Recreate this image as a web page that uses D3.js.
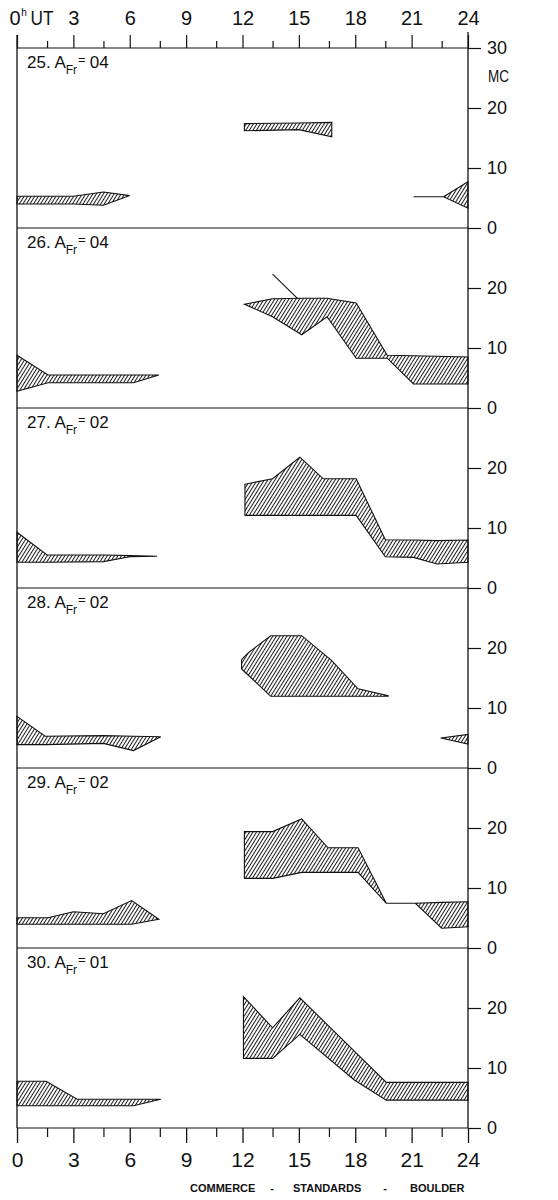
<!DOCTYPE html>
<html><head><meta charset="utf-8">
<script src="https://cdn.jsdelivr.net/npm/d3@7"></script>
<style>
html,body{margin:0;padding:0;background:#fff;}
svg{display:block;}
text{font-family:"Liberation Sans",Arial,sans-serif;fill:#111;}
</style></head>
<body>
<svg id="c" width="558" height="1200"></svg>
<script>
// ---- data ----
const days = ["25","26","27","28","29","30"];
const afr = ["04","04","02","02","02","01"];
const xMajorTicks = [0,3,6,9,12,15,18,21,24];
const xMinorTicks = [1.6,4.6,7.6,10.6,13.6,16.6,19.6,22.6];
const yTicks = [0,10,20];
const yTopTick = 30;
// bands: [hour, upper MC, lower MC]
const band25A = [[0,5.3,4.0],[3.0,5.3,4.0],[4.6,6.0,3.8],[6.0,5.4,5.4]];
const band25B = [[12.1,17.4,16.2],[15.0,17.5,16.4],[16.75,17.6,15.2]];
const band25C = [[21.1,5.2,5.2],[22.7,5.2,5.2],[24,7.7,3.3]];
const band26A = [[0,8.8,2.8],[1.65,5.5,4.2],[6.2,5.5,4.2],[7.55,5.5,5.5]];
const band26B = [[12.1,17.3,17.3],[13.6,18.2,15.2],[15.15,18.3,12.2],[16.5,18.3,15.2],[18.05,17.5,8.3],[19.7,8.8,8.3],[21.1,8.7,4.0],[24,8.5,4.0]];
const line26 = [[13.6,22.3],[14.95,18.2]];
const band27A = [[0,9.3,4.3],[1.6,5.5,4.3],[4.6,5.5,4.4],[6.0,5.4,5.2],[7.45,5.3,5.3]];
const band27B = [[12.13,17.3,12.1],[13.6,18.2,12.1],[15.05,21.8,12.1],[16.3,18.2,12.1],[18.05,18.2,12.1],[19.6,8.05,5.2],[21.1,8.0,5.1],[22.35,7.9,4.0],[24,8.0,4.3]];
const band28A = [[0,8.6,3.9],[1.5,5.3,3.9],[4.6,5.4,4.1],[6.2,5.3,2.9],[7.65,5.2,5.2]];
const band28B = [[11.95,18.05,16.5],[12.3,19.2,15.5],[13.5,22.05,11.95],[15.15,22.05,11.95],[16.75,17.9,11.95],[18.15,13.2,11.95],[19.75,12.05,11.95]];
const band28C = [[22.55,5.0,5.0],[24,5.6,4.0]];
const band29A = [[0,5.05,3.95],[1.65,5.05,3.95],[3.0,6.05,3.95],[4.6,5.7,3.95],[6.1,7.9,3.95],[7.55,4.8,4.8]];
const band29B = [[12.1,19.4,11.6],[13.6,19.4,11.6],[15.15,21.5,12.6],[16.55,16.7,12.6],[18.15,16.7,12.6],[19.65,7.45,7.45],[21.2,7.45,7.45],[22.6,7.6,3.3],[24,7.7,3.55]];
const band30A = [[0,7.8,3.7],[1.55,7.8,3.7],[3.2,4.8,3.7],[6.2,4.8,3.7],[7.65,4.8,4.8]];
const band30B = [[12.05,21.9,11.6],[13.6,16.7,11.6],[15.05,21.7,15.6],[17.95,12.8,8.0],[19.65,7.6,4.65],[24,7.6,4.65]];

const panelBands = [
  [band25A, band25B, band25C],
  [band26A, band26B],
  [band27A, band27B],
  [band28A, band28B, band28C],
  [band29A, band29B],
  [band30A, band30B]
];
const panelLines = [[],[line26],[],[],[],[]];

// ---- layout ----
const svg = d3.select("#c");
const left = 17, right = 468, top0 = 48, panelH = 180;
const x = d3.scaleLinear().domain([0,24]).range([left,right]);
const ink = "#111";

const defs = svg.append("defs");
const pat = defs.append("pattern").attr("id","hatch").attr("patternUnits","userSpaceOnUse")
  .attr("width",3.0).attr("height",10).attr("patternTransform","rotate(32)");
pat.append("line").attr("x1",1.5).attr("y1",0).attr("x2",1.5).attr("y2",10)
  .attr("stroke",ink).attr("stroke-width",0.95);

days.forEach((day,i)=>{
  const top = top0 + i*panelH;
  const y = d3.scaleLinear().domain([0,30]).range([top+panelH, top]);
  const g = svg.append("g");
  const area = d3.area().x(d=>x(d[0])).y0(d=>y(d[2])).y1(d=>y(d[1]));
  panelBands[i].forEach(b=>{
    g.append("path").attr("d",area(b)).attr("fill","url(#hatch)")
      .attr("stroke",ink).attr("stroke-width",1.1).attr("stroke-linejoin","miter");
  });
  const ln = d3.line().x(d=>x(d[0])).y(d=>y(d[1]));
  panelLines[i].forEach(l=>{
    g.append("path").attr("d",ln(l)).attr("fill","none").attr("stroke",ink).attr("stroke-width",1.1);
  });
  // right axis
  const ra = d3.axisRight(y).tickValues(i===0? yTicks.concat([yTopTick]) : yTicks)
    .tickSize(13).tickPadding(6).tickFormat(d3.format("d"));
  const rg = svg.append("g").attr("transform",`translate(${right},0)`).call(ra);
  rg.select(".domain").remove();
  rg.selectAll("line").attr("stroke",ink).attr("stroke-width",1.2);
  rg.selectAll("text").attr("font-size",18).attr("fill",ink);
  // bottom boundary line
  svg.append("line").attr("x1",left).attr("x2",right).attr("y1",top+panelH).attr("y2",top+panelH)
    .attr("stroke",ink).attr("stroke-width",1.2);
  // panel label
  const t = svg.append("text").attr("x",27).attr("y",top+20).attr("font-size",17);
  t.append("tspan").text(day + ". A");
  t.append("tspan").attr("dy",6).attr("font-size",12).text("Fr");
  t.append("tspan").attr("dy",-10).attr("dx",1).attr("font-size",13).text("=");
  t.append("tspan").attr("dy",4).attr("dx",4).text(afr[i]);
});

// top boundary line
svg.append("line").attr("x1",left).attr("x2",right).attr("y1",top0).attr("y2",top0)
  .attr("stroke",ink).attr("stroke-width",1.2);
// MC unit
svg.append("text").attr("x",488).attr("y",82).attr("font-size",16).attr("textLength",21)
  .attr("lengthAdjust","spacingAndGlyphs").text("MC");

// vertical axes
const bottom = top0 + panelH*days.length;
svg.append("line").attr("x1",left).attr("x2",left).attr("y1",35).attr("y2",bottom).attr("stroke",ink).attr("stroke-width",1.3);
svg.append("line").attr("x1",right).attr("x2",right).attr("y1",32).attr("y2",bottom).attr("stroke",ink).attr("stroke-width",1.3);

// top axis
const ta = svg.append("g").attr("transform",`translate(0,${top0})`)
  .call(d3.axisTop(x).tickValues(xMajorTicks).tickSize(13).tickPadding(10).tickFormat(d3.format("d")));
ta.select(".domain").remove();
ta.selectAll("line").attr("stroke",ink).attr("stroke-width",1.2);
ta.selectAll("text").attr("font-size",20).attr("fill",ink);
const zt = ta.selectAll(".tick").filter(d=>d===0).select("text");
zt.attr("text-anchor","start").attr("x",-8).text("0");
zt.append("tspan").attr("font-size",10).attr("dy",-9).attr("dx",0.5).text("h");
zt.append("tspan").attr("x",13).attr("dy",9).attr("textLength",23).attr("lengthAdjust","spacingAndGlyphs").text("UT");
const tm = svg.append("g").attr("transform",`translate(0,${top0})`)
  .call(d3.axisTop(x).tickValues(xMinorTicks).tickSize(7).tickFormat(""));
tm.select(".domain").remove();
tm.selectAll("line").attr("stroke",ink).attr("stroke-width",1.2);

// bottom axis
const ba = svg.append("g").attr("transform",`translate(0,${bottom})`)
  .call(d3.axisBottom(x).tickValues(xMajorTicks).tickSize(15).tickPadding(9).tickFormat(d3.format("d")));
ba.select(".domain").remove();
ba.selectAll("line").attr("stroke",ink).attr("stroke-width",1.3);
ba.selectAll("text").attr("font-size",21).attr("fill",ink);
const bm = svg.append("g").attr("transform",`translate(0,${bottom})`)
  .call(d3.axisBottom(x).tickValues(xMinorTicks).tickSize(9).tickFormat(""));
bm.select(".domain").remove();
bm.selectAll("line").attr("stroke",ink).attr("stroke-width",1.2);

// credit line
const credit = svg.append("g");
credit.append("text").attr("x",190).attr("y",1192).attr("font-weight","bold").attr("font-size",11).text("COMMERCE");
credit.append("text").attr("x",272).attr("y",1192).attr("text-anchor","middle").attr("font-weight","bold").attr("font-size",11).text("-");
credit.append("text").attr("x",293).attr("y",1192).attr("font-weight","bold").attr("font-size",11).text("STANDARDS");
credit.append("text").attr("x",385).attr("y",1192).attr("text-anchor","middle").attr("font-weight","bold").attr("font-size",11).text("-");
credit.append("text").attr("x",410).attr("y",1192).attr("font-weight","bold").attr("font-size",11).text("BOULDER");
</script>
</body></html>
